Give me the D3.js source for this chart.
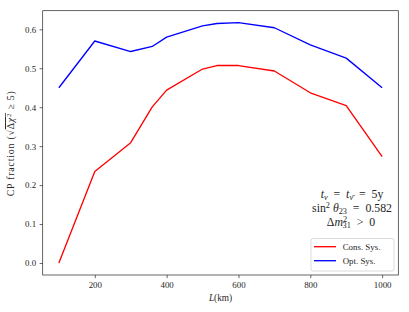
<!DOCTYPE html>
<html><head><meta charset="utf-8">
<script src="https://cdn.jsdelivr.net/npm/d3@7"></script>
<style>body{margin:0;background:#fff}text{font-family:"Liberation Serif","DejaVu Serif",serif;fill:#262626}</style>
</head><body><svg id="c" width="409" height="312"></svg>
<script>
const baselines = [100, 200, 300, 360, 400, 500, 540, 600, 700, 800, 900, 1000];
const consSys = [0.0, 0.235, 0.309, 0.401, 0.444, 0.498, 0.507, 0.507, 0.493, 0.437, 0.404, 0.273];
const optSys = [0.450, 0.570, 0.543, 0.556, 0.580, 0.609, 0.615, 0.617, 0.604, 0.560, 0.526, 0.450];
const xTicks = [200, 400, 600, 800, 1000];
const yTicks = [0.0, 0.1, 0.2, 0.3, 0.4, 0.5, 0.6];
const seriesNames = ["Cons. Sys.", "Opt. Sys."];
const seriesColors = ["#ff0000", "#0000ff"];

const svg = d3.select("#c");
const L = 42.7, R = 398.3, T = 10.7, B = 275;
const x = d3.scaleLinear().domain([55, 1045]).range([L, R]);
const y = d3.scaleLinear().domain([-0.03085, 0.6478]).range([B, T]);
const fs = 8.9;

const xa = svg.append("g").attr("transform", `translate(0,${B})`)
  .call(d3.axisBottom(x).tickValues(xTicks).tickSize(3.1).tickPadding(3.5).tickFormat(d3.format("d")));
const ya = svg.append("g").attr("transform", `translate(${L},0)`)
  .call(d3.axisLeft(y).tickValues(yTicks).tickSize(3.1).tickPadding(3.5).tickFormat(d3.format(".1f")));
[xa, ya].forEach(a => {
  a.select(".domain").remove();
  a.selectAll("line").attr("stroke", "#262626").attr("stroke-width", 0.7);
  a.selectAll("text").attr("font-size", fs).style("font-family", '"Liberation Serif",serif').attr("fill", "#262626");
});
svg.append("rect").attr("x", L).attr("y", T).attr("width", R - L).attr("height", B - T)
  .attr("fill", "none").attr("stroke", "#262626").attr("stroke-width", 0.7);

const line = d3.line().x(d => x(d[0])).y(d => y(d[1]));
[consSys, optSys].forEach((s, i) => {
  svg.append("path").datum(baselines.map((b, j) => [b, s[j]]))
    .attr("d", line).attr("fill", "none").attr("stroke", seriesColors[i]).attr("stroke-width", 1.33)
    .attr("stroke-linejoin", "round");
});

// x label
const xl = svg.append("text").attr("x", (L + R) / 2).attr("y", 301).attr("text-anchor", "middle").attr("font-size", 9.3);
xl.append("tspan").attr("font-style", "italic").text("L");
xl.append("tspan").text("(km)");

// y label
const yl = svg.append("text").attr("transform", `translate(14,${(T + B) / 2 + 0.5}) rotate(-90)`)
  .attr("text-anchor", "middle").attr("font-size", 9.8);
yl.append("tspan").text("CP fraction (√");
yl.append("tspan").style("text-decoration", "overline").text("Δ");
yl.append("tspan").attr("font-style", "italic").style("text-decoration", "overline").text("χ");
yl.append("tspan").attr("font-size", "0.7em").attr("dy", "-0.4em").style("text-decoration", "overline").text("2");
yl.append("tspan").attr("dy", "0.28em").text(" ≥ 5)");
{
  const w = yl.node().getComputedTextLength();
  const n = yl.text().length;
  yl.attr("letter-spacing", Math.max(0, (106 - w) / n));
}

// annotation
const ax = 352;
const af = 11;
const sub = "0.7em";
const t1 = svg.append("text").attr("x", ax).attr("y", 198).attr("text-anchor", "middle").attr("font-size", af);
t1.append("tspan").attr("font-style", "italic").text("t");
t1.append("tspan").attr("font-style", "italic").attr("font-size", sub).attr("dy", "0.25em").text("ν");
t1.append("tspan").attr("dy", "-0.175em").text("  =  ");
t1.append("tspan").attr("font-style", "italic").text("t");
t1.append("tspan").attr("font-style", "italic").attr("font-size", sub).attr("dy", "0.25em").text("ν̄");
t1.append("tspan").attr("dy", "-0.175em").text("  =  5y");
const t2 = svg.append("text").attr("x", ax).attr("y", 212).attr("text-anchor", "middle").attr("font-size", af);
t2.append("tspan").text("sin");
t2.append("tspan").attr("font-size", sub).attr("dy", "-0.45em").text("2");
t2.append("tspan").attr("dy", "0.315em").attr("font-style", "italic").text(" θ");
t2.append("tspan").attr("font-size", sub).attr("dy", "0.25em").text("23");
t2.append("tspan").attr("dy", "-0.175em").text("  =  0.582");
const t3 = svg.append("text").attr("x", ax - 1).attr("y", 225.5).attr("text-anchor", "middle").attr("font-size", af);
t3.append("tspan").text("Δ");
t3.append("tspan").attr("font-style", "italic").text("m");
t3.append("tspan").attr("font-size", sub).attr("dy", "-0.45em").text("2");
t3.append("tspan").attr("font-size", sub).attr("dy", "0.8em").attr("dx", "-0.55em").text("31");
t3.append("tspan").attr("dy", "-0.245em").text("  >  0");
svg.selectAll("text").style("white-space", "pre");

// fit annotation width to reference (line 2 ≈ 80px)
const w2 = t2.node().getComputedTextLength();
const k = 80 / w2;
[t1, t2, t3].forEach(t => t.attr("font-size", af * k));

// legend
svg.append("rect").attr("x", 311).attr("y", 238.5).attr("width", 83).attr("height", 32.5).attr("rx", 2)
  .attr("fill", "#fff").attr("fill-opacity", 0.8).attr("stroke", "#cccccc").attr("stroke-width", 0.7);
seriesNames.forEach((n, i) => {
  const yy = 246.7 + i * 14;
  svg.append("line").attr("x1", 314).attr("x2", 336).attr("y1", yy).attr("y2", yy)
    .attr("stroke", seriesColors[i]).attr("stroke-width", 1.33);
  svg.append("text").attr("x", 342.7).attr("y", yy + 3).attr("font-size", fs).text(n);
});
</script></body></html>
